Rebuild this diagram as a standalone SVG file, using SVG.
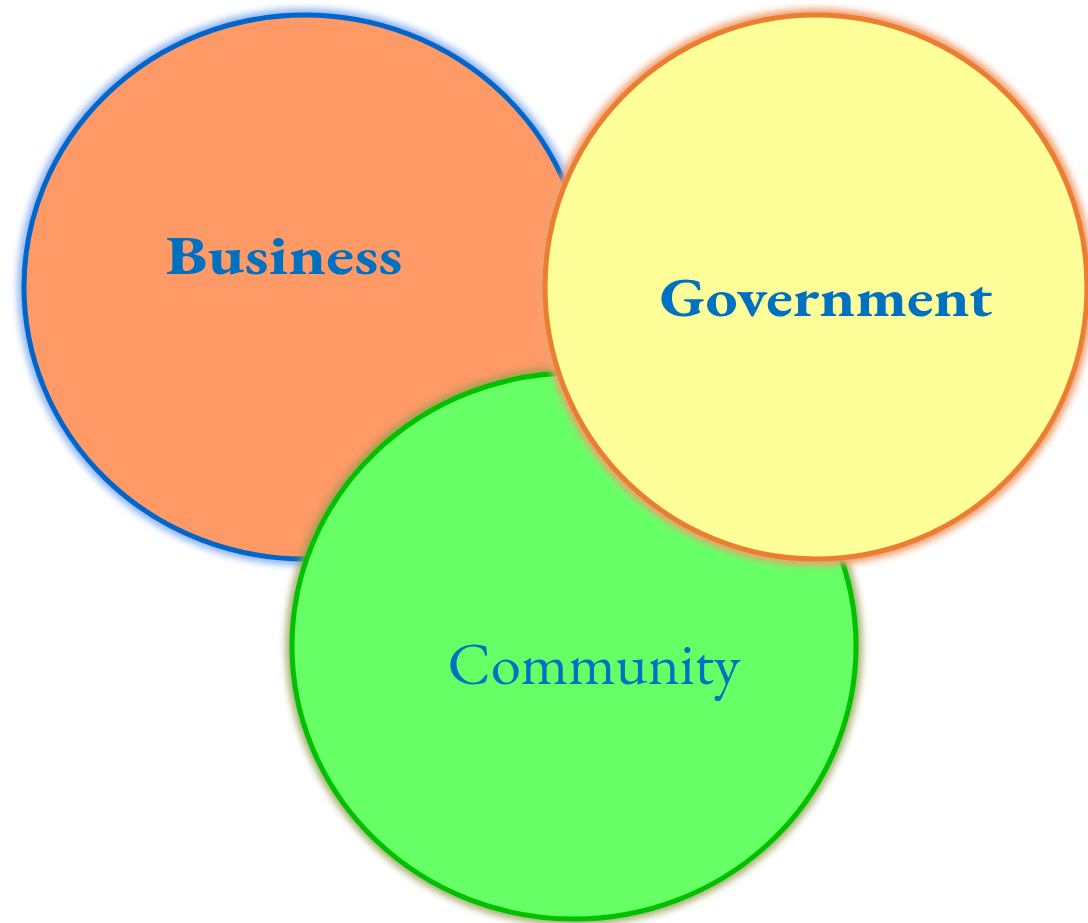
<svg xmlns="http://www.w3.org/2000/svg" width="1088" height="923" viewBox="0 0 1088 923">
  <defs>
    <filter id="glow" x="-10%" y="-10%" width="120%" height="120%">
      <feGaussianBlur stdDeviation="3.5"/>
    </filter>
    <style>
      .halo { fill: none; stroke-width: 13; filter: url(#glow); }
      .circ { stroke-width: 5; }
      .lbl { font-family: "EB Garamond", Garamond, "Liberation Serif", "DejaVu Serif", serif; fill: #0070C0; text-anchor: middle; }
      .bold { font-weight: bold; font-size: 56px; }
      .reg { font-size: 60px; }
    </style>
  </defs>
  <rect width="1088" height="923" fill="#FFFFFF"/>
  <g id="business">
    <ellipse class="halo" cx="305" cy="287" rx="281" ry="272" stroke="#8DB4F0"/>
    <ellipse class="circ" cx="305" cy="287" rx="281" ry="272" fill="#FF9966" stroke="#0066CC"/>
    <text class="lbl bold" x="284" y="274" textLength="237" lengthAdjust="spacingAndGlyphs">Business</text>
  </g>
  <g id="community">
    <ellipse class="halo" cx="574" cy="646" rx="282" ry="273" stroke="#8FA050" opacity="0.8"/>
    <ellipse class="circ" cx="574" cy="646" rx="282" ry="273" fill="#66FF66" stroke="#00C000"/>
    <text class="lbl reg" x="594" y="684" textLength="293" lengthAdjust="spacingAndGlyphs">Community</text>
  </g>
  <g id="government">
    <ellipse class="halo" cx="816" cy="287" rx="271" ry="272" stroke="#F0A070"/>
    <ellipse class="circ" cx="816" cy="287" rx="271" ry="272" fill="#FFFF99" stroke="#ED7D31"/>
    <text class="lbl bold" x="826" y="316" textLength="333" lengthAdjust="spacingAndGlyphs">Government</text>
  </g>
  <g id="connectors"/>
</svg>
